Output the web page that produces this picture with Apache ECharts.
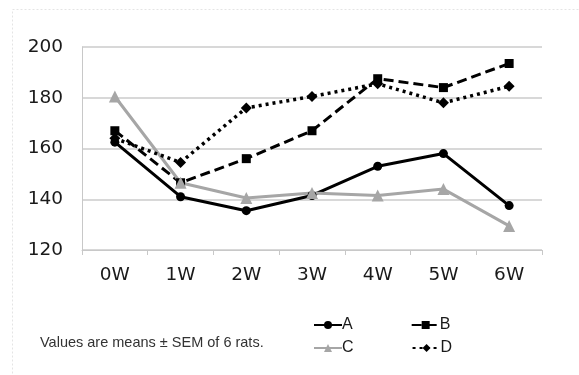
<!DOCTYPE html>
<html><head><meta charset="utf-8">
<script src="https://cdn.jsdelivr.net/npm/echarts@6/dist/echarts.min.js"></script>
<style>html,body{margin:0;padding:0;background:#fff}#c{width:579px;height:375px}</style>
</head><body><div id="c"></div>
<script>
const categories = ['0W','1W','2W','3W','4W','5W','6W'];
const seriesA = [162.5, 141, 135.5, 141.5, 153, 158, 137.5];
const seriesB = [167, 146.5, 156, 167, 187.5, 184, 193.5];
const seriesC = [180.5, 146.5, 140.5, 142.5, 141.5, 144, 129.5];
const seriesD = [164, 154.5, 176, 180.5, 185.5, 178, 184.5];
const yTicks = [120, 140, 160, 180, 200];
const footnote = 'Values are means \u00B1 SEM of 6 rats.';

const chart = echarts.init(document.getElementById('c'), null, {renderer: 'canvas'});
const font = 'Liberation Sans, DejaVu Sans, sans-serif';
const axFont = 'DejaVu Sans, sans-serif';
function mk(name, data, color, type, symbol, size, width) {
  return {
    name, type: 'line', data, symbol, symbolSize: size, showSymbol: true,
    itemStyle: {color},
    lineStyle: {color, width: width, type},
    z: 3, animation: false
  };
}
chart.setOption({
  animation: false,
  backgroundColor: '#fff',
  grid: {left: 82, right: 37, top: 47, bottom: 125, containLabel: false},
  xAxis: {
    type: 'category', data: categories, boundaryGap: true,
    axisLine: {lineStyle: {color: '#c8c8c8', width: 1}},
    axisTick: {show: true, length: 5, lineStyle: {color: '#c8c8c8'}},
    axisLabel: {color: '#1a1a1a', fontSize: 18.5, fontFamily: axFont, margin: 16}
  },
  yAxis: {
    type: 'value', min: yTicks[0], max: yTicks[yTicks.length-1], interval: 20,
    axisLine: {show: true, lineStyle: {color: '#c8c8c8', width: 1}},
    axisTick: {show: false},
    axisLabel: {color: '#1a1a1a', fontSize: 18.5, fontFamily: axFont, margin: 19},
    splitLine: {show: true, lineStyle: {color: '#d8d8d8', width: 2}}
  },
  legend: [
    {data: ['A','B'], left: 308, top: 312, itemWidth: 28, itemHeight: 10, itemGap: 58,
     textStyle: {fontSize: 16, fontFamily: font, color: '#1a1a1a', padding: [0,0,0,-5]}},
    {data: ['C','D'], left: 308, top: 335, itemWidth: 28, itemHeight: 10, itemGap: 58,
     textStyle: {fontSize: 16, fontFamily: font, color: '#1a1a1a', padding: [0,0,0,-5]}}
  ],
  graphic: [
    {type: 'rect', shape: {x: 12.5, y: 9.5, width: 600, height: 400},
     style: {fill: 'none', stroke: '#e4e4e4', lineWidth: 1, lineDash: [2,2]}, silent: true},
    {type: 'text', left: 40, top: 335,
     style: {text: footnote, fontSize: 14.5, fontFamily: font, fill: '#333'}}
  ],
  series: [
    mk('A', seriesA, '#000000', 'solid', 'circle', 9, 3),
    mk('B', seriesB, '#000000', [10,5], 'rect', 9, 3),
    mk('C', seriesC, '#a6a6a6', 'solid', 'triangle', 12, 3),
    mk('D', seriesD, '#000000', [3,4], 'diamond', 11, 3.5)
  ]
});
</script></body></html>
